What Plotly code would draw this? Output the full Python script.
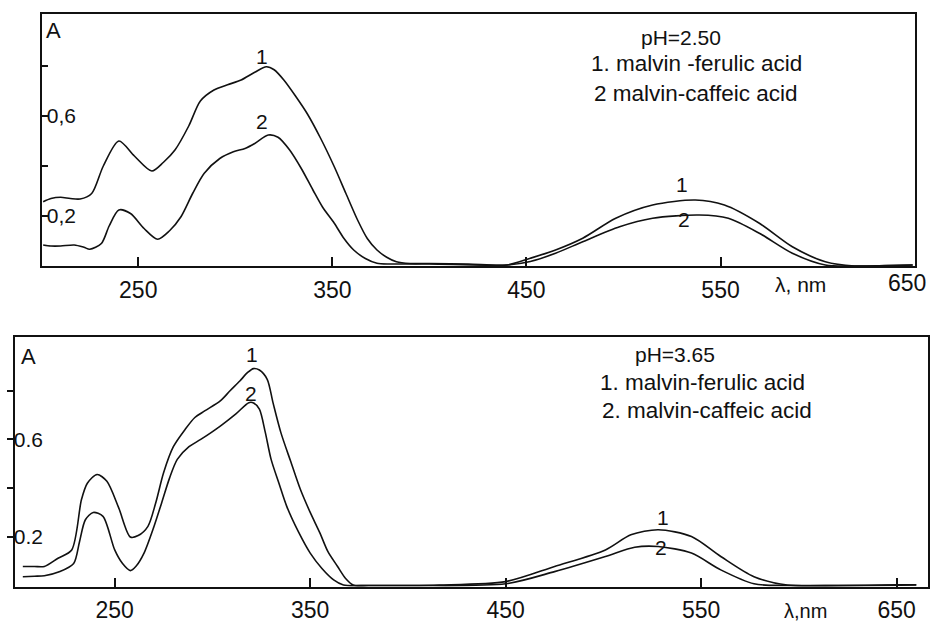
import plotly.graph_objects as go

# ---------------- data: pH = 2.50 (top panel) ----------------
top_wl_1 = [201, 205, 210, 215, 220, 226, 232, 240, 248, 257, 263, 269, 276, 282, 289, 296, 303, 310,
            316, 320, 325, 331, 337, 344, 351, 357, 363, 368, 373, 378, 383, 390, 400, 420, 440, 452,
            465, 479, 496, 515, 537, 552, 570, 587, 604, 619, 635, 649]
top_a_1 = [0.257, 0.27, 0.275, 0.27, 0.268, 0.29, 0.40, 0.50, 0.44, 0.38, 0.415, 0.465, 0.56, 0.66,
           0.704, 0.725, 0.744, 0.775, 0.797, 0.785, 0.744, 0.68, 0.61, 0.51, 0.397, 0.29, 0.184,
           0.11, 0.064, 0.035, 0.017, 0.01, 0.01, 0.008, 0.004, 0.031, 0.064, 0.111, 0.191, 0.244,
           0.264, 0.244, 0.171, 0.077, 0.017, 0.0, 0.002, 0.004]

top_wl_2 = [201, 205, 210, 217, 222, 225, 231, 235, 240, 246, 253, 260, 266, 272, 278, 284, 292, 299,
            305, 310, 317, 322, 328, 334, 340, 345, 351, 356, 361, 367, 373, 380, 400, 440, 452, 465,
            479, 498, 515, 539, 554, 570, 587, 604, 619, 649]
top_a_2 = [0.084, 0.08, 0.08, 0.084, 0.075, 0.067, 0.09, 0.16, 0.224, 0.21, 0.15, 0.107, 0.14, 0.197,
           0.29, 0.371, 0.43, 0.457, 0.47, 0.49, 0.524, 0.515, 0.464, 0.39, 0.304, 0.235, 0.171, 0.11,
           0.064, 0.03, 0.011, 0.008, 0.008, 0.004, 0.018, 0.051, 0.097, 0.157, 0.191, 0.204, 0.191,
           0.131, 0.051, 0.004, 0.0, 0.004]

# ---------------- data: pH = 3.65 (bottom panel) ----------------
bot_wl_1 = [203, 209, 214, 221, 228, 233, 236, 241, 246, 252, 258, 262, 267, 271, 275, 280, 286, 291,
            296, 304, 309, 314, 318, 321, 324, 328, 331, 335, 340, 345, 350, 355, 359, 364, 368, 372,
            380, 400, 416, 450, 475, 501, 514, 528, 545, 560, 577, 594, 620, 650, 660]
bot_a_1 = [0.078, 0.078, 0.078, 0.112, 0.146, 0.353, 0.42, 0.456, 0.428, 0.32, 0.199, 0.205, 0.243,
           0.34, 0.463, 0.57, 0.641, 0.69, 0.717, 0.758, 0.80, 0.84, 0.875, 0.891, 0.885, 0.847, 0.75,
           0.628, 0.51, 0.394, 0.30, 0.215, 0.14, 0.078, 0.03, 0.002, 0.0, 0.0, 0.002, 0.016, 0.078,
           0.146, 0.208, 0.229, 0.201, 0.119, 0.036, 0.002, 0.0, 0.003, 0.003]

bot_wl_2 = [203, 209, 214, 222, 229, 232, 235, 239, 244, 250, 254, 258, 261, 265, 270, 274, 278, 282,
            288, 294, 304, 312, 318.6, 321, 324, 327, 330, 334, 338, 344, 350, 356, 362, 367, 380, 400,
            450, 475, 501, 516, 528, 545, 560, 577, 594, 660]
bot_a_2 = [0.036, 0.038, 0.04, 0.057, 0.09, 0.18, 0.27, 0.30, 0.284, 0.146, 0.09, 0.061, 0.08, 0.133,
           0.24, 0.339, 0.44, 0.518, 0.57, 0.60, 0.655, 0.705, 0.751, 0.75, 0.724, 0.63, 0.518, 0.42,
           0.325, 0.22, 0.133, 0.07, 0.023, 0.002, 0.0, 0.0, 0.007, 0.057, 0.119, 0.157, 0.16, 0.133,
           0.064, 0.007, 0.0, 0.002]

x_ticks = [250, 350, 450, 550, 650]
top_x_labels = ["250", "350", "450", "550", ""]   # "650" of the top panel sits at the border, drawn as text
bot_x_labels = ["250", "350", "450", "550", "650"]
y_ticks = [0.2, 0.4, 0.6, 0.8]
top_y_labels = ["0,2", "", "0,6", ""]
bot_y_labels = ["0.2", "", "0.6", ""]

top_legend = ["pH=2.50", "1. malvin -ferulic acid", "2 malvin-caffeic acid"]
bot_legend = ["pH=3.65", "1. malvin-ferulic acid", "2. malvin-caffeic acid"]

W, H = 931, 624
FONT = "Liberation Sans"
BLACK = "#111111"

fig = go.Figure()
line = dict(color=BLACK, width=1.6, shape="spline", smoothing=0.8)
fig.add_trace(go.Scatter(x=top_wl_1, y=top_a_1, mode="lines", line=line, xaxis="x", yaxis="y"))
fig.add_trace(go.Scatter(x=top_wl_2, y=top_a_2, mode="lines", line=line, xaxis="x", yaxis="y"))
fig.add_trace(go.Scatter(x=bot_wl_1, y=bot_a_1, mode="lines", line=line, xaxis="x2", yaxis="y2"))
fig.add_trace(go.Scatter(x=bot_wl_2, y=bot_a_2, mode="lines", line=line, xaxis="x2", yaxis="y2"))


def px(x):
    return x / W


def py(y):
    return 1 - y / H


common_x = dict(showgrid=False, zeroline=False, showline=True, linewidth=2, linecolor=BLACK,
                mirror=True, ticks="inside", ticklen=9, tickwidth=1.5, tickcolor=BLACK,
                tickvals=x_ticks, ticklabeloverflow="allow", automargin=False,
                tickfont=dict(family=FONT, size=23, color=BLACK), ticklabelstandoff=2)
common_y = dict(showgrid=False, zeroline=False, showline=True, linewidth=2, linecolor=BLACK,
                mirror=True, ticklen=6, tickwidth=1.5, tickcolor=BLACK, tickvals=y_ticks,
                ticklabelposition="inside", automargin=False,
                tickfont=dict(family=FONT, size=21, color=BLACK))

fig.update_layout(
    width=W, height=H,
    margin=dict(l=0, r=0, t=0, b=0, autoexpand=False),
    paper_bgcolor="white", plot_bgcolor="white",
    showlegend=False,
    xaxis=dict(domain=[px(42), px(915)], range=[200.4, 650.2], anchor="y", ticktext=top_x_labels,
               **common_x),
    yaxis=dict(domain=[py(266), py(14)], range=[0, 1.008], anchor="x", ticks="inside",
               ticktext=top_y_labels, **common_y),
    xaxis2=dict(domain=[px(15), px(928)], range=[199, 666], anchor="y2", ticktext=bot_x_labels,
                **common_x),
    yaxis2=dict(domain=[py(586.7), py(336.7)], range=[-0.005, 1.022], anchor="x2", ticks="outside",
                ticktext=bot_y_labels, **common_y),
)

ann = []


def text(x, y, s, size=21, xref="paper", yref="paper"):
    ann.append(dict(x=x, y=y, xref=xref, yref=yref, text=s, showarrow=False, xanchor="center",
                    yanchor="middle", font=dict(family=FONT, size=size, color=BLACK)))


# top panel texts
text(px(681), py(37.5), top_legend[0], 21)
text(px(696), py(64), top_legend[1], 22.5)
text(px(695), py(93), top_legend[2], 22.5)
text(px(53), py(30), "A", 22)
text(px(800), py(285), "λ, nm", 21)
text(px(907), py(283), "650", 23)
text(314, 0.84, "1", 21, "x", "y")
text(314, 0.58, "2", 21, "x", "y")
text(530, 0.325, "1", 21, "x", "y")
text(531, 0.185, "2", 21, "x", "y")

# bottom panel texts
text(px(675), py(354), bot_legend[0], 21)
text(px(702), py(382), bot_legend[1], 22.5)
text(px(707), py(410), bot_legend[2], 22.5)
text(px(28), py(356), "A", 22)
text(px(805), py(611), "λ,nm", 20)
text(320, 0.95, "1", 21, "x2", "y2")
text(319.5, 0.79, "2", 21, "x2", "y2")
text(530.5, 0.28, "1", 21, "x2", "y2")
text(529.6, 0.155, "2", 21, "x2", "y2")

fig.update_layout(annotations=ann)
fig.write_html("out.html", config={"displayModeBar": False},
               post_script="document.body.style.margin='0';document.body.style.overflow='hidden';")
